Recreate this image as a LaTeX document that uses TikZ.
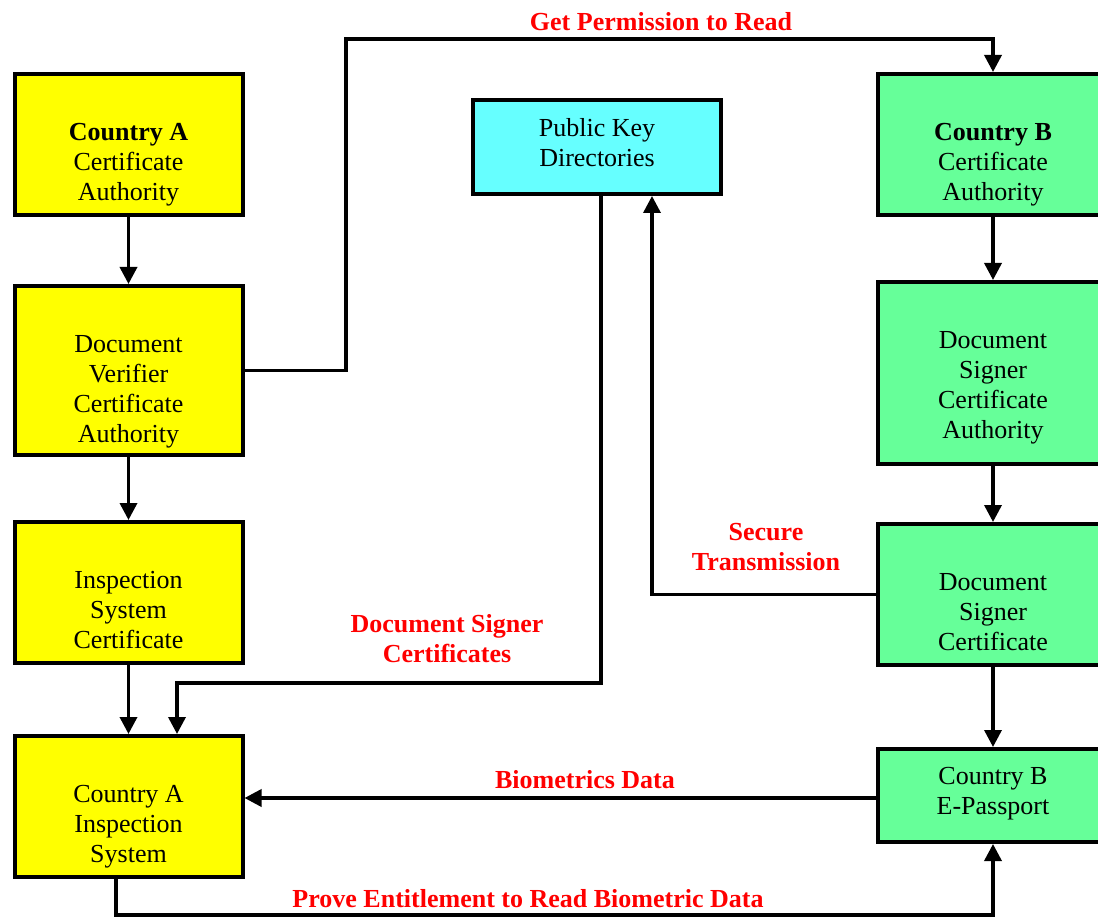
\documentclass[tikz,border=0pt]{standalone}
\usepackage{fontspec}
\setmainfont{Liberation Serif}
\usetikzlibrary{arrows.meta}
\definecolor{boxyellow}{RGB}{255,255,0}
\definecolor{boxcyan}{RGB}{102,255,255}
\definecolor{boxgreen}{RGB}{102,255,153}
\definecolor{labelred}{RGB}{255,0,0}
\begin{document}
\begin{tikzpicture}[x=1pt,y=-1pt,
  font=\fontsize{26}{30}\selectfont,
  abox/.style={draw, line width=4pt, inner sep=0pt},
  countryA/.style={abox, fill=boxyellow, minimum width=228pt},
  countryB/.style={abox, fill=boxgreen, minimum width=230pt},
  boxtext/.style={anchor=north, align=center, inner sep=0pt, yshift=-51.5pt},
  shorttext/.style={anchor=north, align=center, inner sep=0pt, yshift=-20.5pt},
  link/.style={line width=3.5pt, -{Triangle[length=17pt,width=17pt]}},
  flowlabel/.style={text=labelred, font=\fontsize{26}{30}\selectfont\bfseries,
    align=center, inner sep=0pt, anchor=north}]
\useasboundingbox (0,0) rectangle (1098,917);
% country A side
\node[countryA, minimum height=141pt,
  label={[boxtext]north:{\textbf{Country A}\\Certificate\\Authority}}] (caA) at (128.5,144.5) {};
\node[countryA, minimum height=169pt,
  label={[boxtext]north:{Document\\Verifier\\Certificate\\Authority}}] (dvca) at (128.5,370.5) {};
\node[countryA, minimum height=141pt,
  label={[boxtext]north:{Inspection\\System\\Certificate}}] (isc) at (128.5,592.5) {};
\node[countryA, minimum height=141pt,
  label={[boxtext]north:{Country A\\Inspection\\System}}] (cais) at (128.5,806.5) {};
% directory
\node[abox, fill=boxcyan, minimum width=248pt, minimum height=94pt,
  label={[shorttext]north:{Public Key\\Directories}}] (pkd) at (597,147) {};
% country B side
\node[countryB, minimum height=141pt,
  label={[boxtext]north:{\textbf{Country B}\\Certificate\\Authority}}] (cbca) at (993,144.5) {};
\node[countryB, minimum height=182pt,
  label={[boxtext]north:{Document\\Signer\\Certificate\\Authority}}] (dsca) at (993,373) {};
\node[countryB, minimum height=141pt,
  label={[boxtext]north:{Document\\Signer\\Certificate}}] (dsc) at (993,594.5) {};
\node[countryB, minimum height=93pt,
  label={[shorttext]north:{Country B\\E-Passport}}] (pass) at (993,795.5) {};
% connectors
\draw[link] (caA) -- (dvca);
\draw[link] (dvca) -- (isc);
\draw[link] (isc) -- (cais);
\draw[link] (cbca) -- (dsca);
\draw[link] (dsca) -- (dsc);
\draw[link] (dsc) -- (pass);
\draw[link] (dvca.east) -| (346,39) -| (cbca.north);
\draw[link] (dsc.west) -| ([xshift=55pt]pkd.south);
\draw[link] ([xshift=4pt]pkd.south) -- (601,683) -| ([xshift=48.5pt]cais.north);
\draw[link] ([yshift=-2.5pt]pass.west) -- ([yshift=-2.5pt]pass.west -| cais.east);
\draw[link] ([xshift=-12.5pt]cais.south) -- (116,915) -| (pass.south);
% labels
\node[flowlabel] (permission) at (661,12.5) {Get Permission to Read};
\node[flowlabel] (secure) at (766,523.5) {Secure\\Transmission};
\node[flowlabel] (signercerts) at (447,614.5) {Document Signer\\Certificates};
\node[flowlabel] (biometrics) at (585,770) {Biometrics Data};
\node[flowlabel] (prove) at (528,889) {Prove Entitlement to Read Biometric Data};
\end{tikzpicture}
\end{document}
